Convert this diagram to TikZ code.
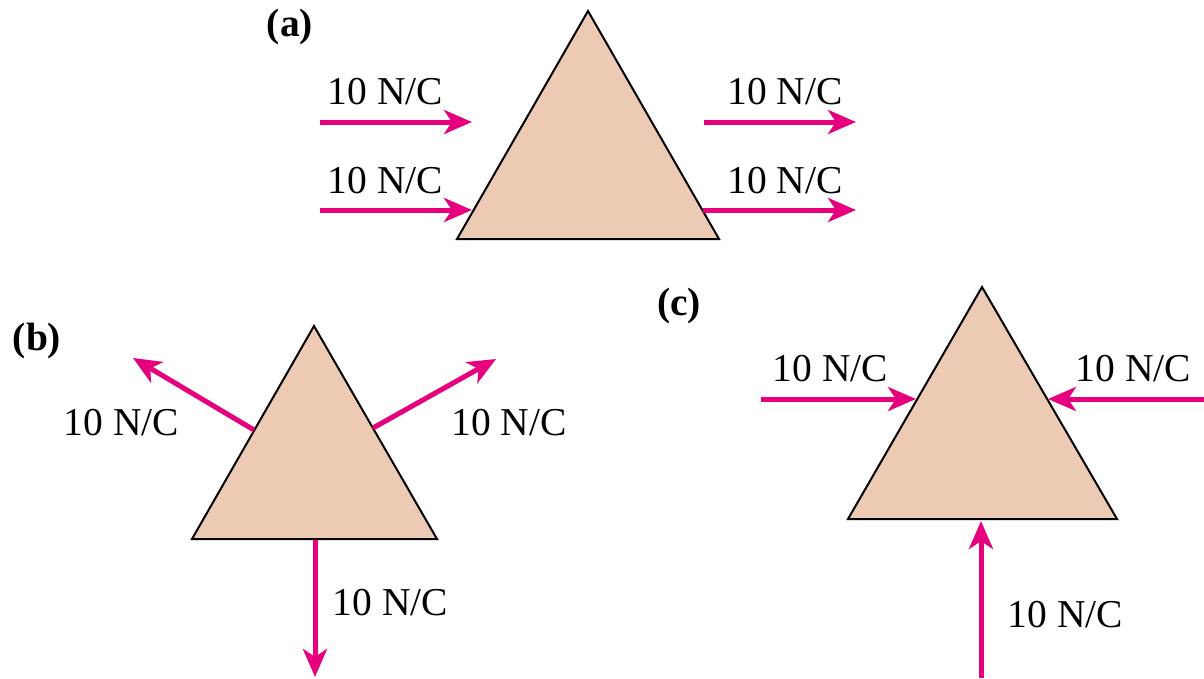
\documentclass[tikz,border=0pt]{standalone}
\usepackage{fontspec}
\setmainfont{Liberation Serif}
\usetikzlibrary{arrows.meta}
\definecolor{fieldcol}{HTML}{E6007E}
\definecolor{bodycol}{HTML}{EDCAB4}
\begin{document}
\begin{tikzpicture}[x=1pt,y=-1pt,
  fieldarrow/.style={draw=fieldcol, line width=5pt, -{Stealth[length=28pt,width=24pt,inset=8pt]}},
  chargebody/.style={fill=bodycol, draw=black, line width=2pt, line join=miter},
  lbl/.style={anchor=base, inner sep=0pt, font=\fontsize{39.5}{40}\selectfont},
  tag/.style={anchor=base, inner sep=0pt, font=\fontsize{39.5}{40}\selectfont\bfseries}]
\useasboundingbox (0,0) rectangle (1204,678);

% ---------- (a) ----------
\coordinate (aT) at (588,11);
\coordinate (aL) at (457,239);
\coordinate (aR) at (719,239);
\draw[chargebody] (aT) -- (aL) -- (aR) -- cycle;
\coordinate (a1s) at (320,122); \coordinate (a1e) at (472,122);
\coordinate (a2s) at (320,210); \coordinate (a2e) at (472,210);
\coordinate (a3s) at (704,122); \coordinate (a3e) at (856,122);
\coordinate (a4s) at (703,210); \coordinate (a4e) at (856,210);
\draw[fieldarrow] (a1s) -- (a1e);
\draw[fieldarrow] (a2s) -- (a2e);
\draw[fieldarrow] (a3s) -- (a3e);
\draw[fieldarrow] (a4s) -- (a4e);
\node[tag] (ta) at (290,36) {(a)};
\node[lbl] (la1) at (385.5,104) {10 N/C};
\node[lbl] (la2) at (385.5,193) {10 N/C};
\node[lbl] (la3) at (785,104) {10 N/C};
\node[lbl] (la4) at (785,193) {10 N/C};

% ---------- (b) ----------
\coordinate (bT) at (314,326);
\coordinate (bL) at (192,539);
\coordinate (bR) at (437,539);
\draw[chargebody] (bT) -- (bL) -- (bR) -- cycle;
\coordinate (b1s) at (254,430); \coordinate (b1e) at (133,358);
\coordinate (b2s) at (373,428); \coordinate (b2e) at (496,359);
\coordinate (b3s) at (315,540); \coordinate (b3e) at (315,677);
\draw[fieldarrow] (b1s) -- (b1e);
\draw[fieldarrow] (b2s) -- (b2e);
\draw[fieldarrow] (b3s) -- (b3e);
\node[tag] (tb) at (37,350) {(b)};
\node[lbl] (lb1) at (121.5,435) {10 N/C};
\node[lbl] (lb2) at (509,435) {10 N/C};
\node[lbl] (lb3) at (390.5,615) {10 N/C};

% ---------- (c) ----------
\coordinate (cT) at (982,287);
\coordinate (cL) at (848,519);
\coordinate (cR) at (1117,519);
\draw[chargebody] (cT) -- (cL) -- (cR) -- cycle;
\coordinate (c1s) at (761,399); \coordinate (c1e) at (916,399);
\coordinate (c2s) at (1204,399); \coordinate (c2e) at (1048,399);
\coordinate (c3s) at (981,678); \coordinate (c3e) at (981,521);
\draw[fieldarrow] (c1s) -- (c1e);
\draw[fieldarrow] (c2s) -- (c2e);
\draw[fieldarrow] (c3s) -- (c3e);
\node[tag] (tc) at (679,315) {(c)};
\node[lbl] (lc1) at (830.5,381) {10 N/C};
\node[lbl] (lc2) at (1133.5,381) {10 N/C};
\node[lbl] (lc3) at (1065.5,627) {10 N/C};
\end{tikzpicture}
\end{document}
